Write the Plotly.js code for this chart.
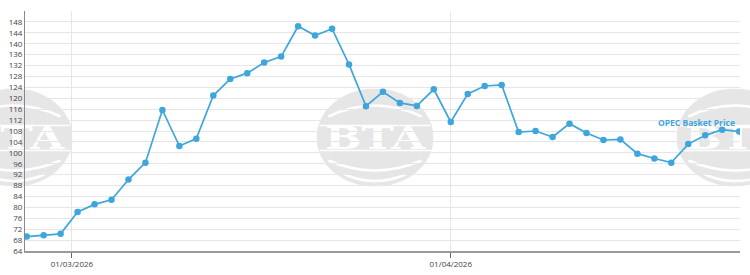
<!DOCTYPE html>
<html>
<head>
<meta charset="utf-8">
<script src="https://cdn.plot.ly/plotly-3.0.1.min.js"></script>
<style>
  html, body { margin: 0; padding: 0; background: #fff; }
  #chart { width: 750px; height: 275px; }
</style>
</head>
<body>
<div id="chart"></div>
<script>
// ---- data ----
const dates = [
  '2026-02-25','2026-02-26','2026-02-27',
  '2026-03-02','2026-03-03','2026-03-04','2026-03-05','2026-03-06',
  '2026-03-09','2026-03-10','2026-03-11','2026-03-12','2026-03-13',
  '2026-03-16','2026-03-17','2026-03-18','2026-03-19','2026-03-20',
  '2026-03-23','2026-03-24','2026-03-25','2026-03-26','2026-03-27',
  '2026-03-30','2026-03-31',
  '2026-04-01','2026-04-02','2026-04-03',
  '2026-04-06','2026-04-07','2026-04-08','2026-04-09','2026-04-10',
  '2026-04-13','2026-04-14','2026-04-15','2026-04-16','2026-04-17',
  '2026-04-20','2026-04-21','2026-04-22','2026-04-23','2026-04-24'
];
const prices = [
  69.3, 69.8, 70.3,
  78.3, 81.1, 82.8, 90.2, 96.4,
  115.7, 102.5, 105.2, 121.0, 127.1,
  129.2, 133.1, 135.3, 146.4, 143.0,
  145.5, 132.4, 117.1, 122.4, 118.3,
  117.2, 123.3,
  111.3, 121.6, 124.5,
  124.9, 107.6, 108.0, 105.8, 110.7,
  107.3, 104.7, 104.9, 99.7, 97.9,
  96.4, 103.2, 106.4, 108.5, 107.8
];
const seriesName = 'OPEC Basket Price';
const xTickDates = ['2026-03-01', '2026-04-01'];
const yTickVals = [64,68,72,76,80,84,88,92,96,100,104,108,112,116,120,124,128,132,136,140,144,148,152];
const yTickText = ['64','68','72','76','80','84','88','92','96','100','104','108','112','116','120','124','128','132','136','140','144','148',''];

// ---- ordinal (business-day) x positions ----
const xIdx = dates.map((d, i) => i);
const times = dates.map(d => Date.parse(d));
function ordinalPos(d) {
  const t = Date.parse(d);
  for (let i = 0; i < times.length - 1; i++) {
    if (t >= times[i] && t <= times[i + 1]) {
      return i + (t - times[i]) / (times[i + 1] - times[i]);
    }
  }
  return null;
}
const xTickVals = xTickDates.map(ordinalPos);
const xTickText = xTickDates.map(d => {
  const [y, m, dd] = d.split('-');
  return dd + '/' + m + '/' + y;
});

// ---- BTA watermark (decoration) ----
const logoSvg =
  '<svg xmlns="http://www.w3.org/2000/svg" width="117" height="98" viewBox="0 0 117 98" preserveAspectRatio="none">' +
  '<ellipse cx="58.5" cy="49" rx="58.5" ry="49" fill="#e6e6e6"/>' +
  '<path d="M12,28 Q58.5,6 105,28" stroke="#fff" stroke-width="2.5" fill="none"/>' +
  '<path d="M3,37 L114,37" stroke="#fff" stroke-width="1.5" fill="none"/>' +
  '<path d="M3,62 L114,62" stroke="#fff" stroke-width="1.5" fill="none"/>' +
  '<path d="M12,72 Q58.5,92 105,72" stroke="#fff" stroke-width="2.5" fill="none"/>' +
  '<path d="M28,86 Q58.5,99 89,86" stroke="#fff" stroke-width="2.5" fill="none"/>' +
  '<text x="58.5" y="60" text-anchor="middle" font-family="DejaVu Serif" font-weight="bold" font-size="31" fill="#fff" textLength="100" lengthAdjust="spacingAndGlyphs">BTA</text>' +
  '</svg>';
const logoSrc = 'data:image/svg+xml;charset=utf-8,' + encodeURIComponent(logoSvg);

const W = 750, H = 275, mL = 25, mR = 10, mT = 11, mB = 24;
const plotW = W - mL - mR, plotH = H - mT - mB;
function logo(cxPx, cyPx) {
  return {
    source: logoSrc, xref: 'paper', yref: 'paper',
    x: (cxPx - mL) / plotW, y: (H - mB - cyPx) / plotH,
    sizex: 117 / plotW, sizey: 98 / plotH,
    xanchor: 'center', yanchor: 'middle', sizing: 'stretch', layer: 'below'
  };
}

const blue = '#3ea6dc';
const trace = {
  x: xIdx, y: prices, type: 'scatter', mode: 'lines+markers',
  name: seriesName, text: dates,
  line: { color: blue, width: 1.7 },
  marker: { color: blue, size: 6.5 },
  hoverinfo: 'text+y'
};

const tickFont = { family: 'Open Sans, sans-serif', size: 8, color: '#444' };
const layout = {
  width: W, height: H,
  margin: { l: mL, r: mR, t: mT, b: mB, pad: 0 },
  paper_bgcolor: '#ffffff',
  plot_bgcolor: 'rgba(0,0,0,0)',
  showlegend: false,
  font: { family: 'Open Sans, sans-serif', size: 8, color: '#444' },
  xaxis: {
    type: 'linear',
    range: [-0.1, dates.length - 1 + 0.05],
    tickvals: xTickVals, ticktext: xTickText,
    ticks: 'outside', ticklen: 5, tickcolor: '#666', tickwidth: 1,
    showgrid: true, gridcolor: '#e6e6e6', gridwidth: 1,
    showline: true, linecolor: '#999', linewidth: 1.5,
    zeroline: false,
    tickfont: tickFont
  },
  yaxis: {
    range: [64, 152],
    tickvals: yTickVals, ticktext: yTickText,
    ticks: '',
    showgrid: true, gridcolor: '#e6e6e6', gridwidth: 1,
    showline: true, linecolor: '#888', linewidth: 1,
    zeroline: false,
    tickfont: tickFont
  },
  images: [logo(14, 137.5), logo(375, 137.5), logo(735, 137.5)],
  annotations: [{
    x: dates.length - 1, y: prices[prices.length - 1],
    xref: 'x', yref: 'y',
    text: '<b>' + seriesName + '</b>',
    showarrow: false, xanchor: 'right', yanchor: 'bottom',
    xshift: -2, yshift: 2,
    font: { family: 'Open Sans, sans-serif', size: 8.5, color: blue }
  }]
};

Plotly.newPlot('chart', [trace], layout, { displayModeBar: false, staticPlot: true });
</script>
</body>
</html>
